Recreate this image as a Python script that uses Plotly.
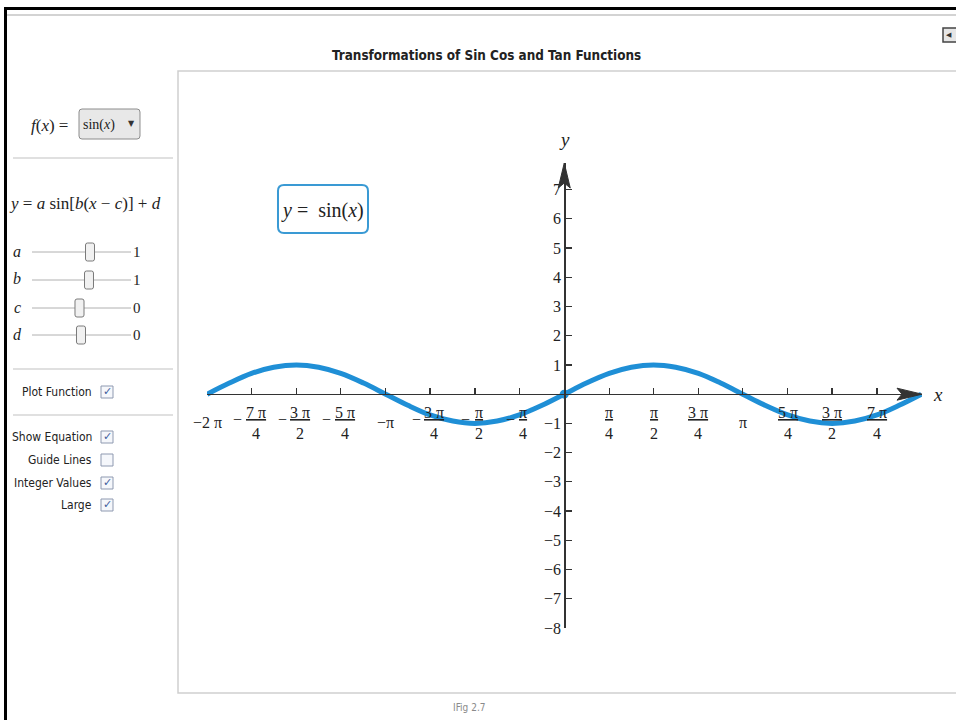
import plotly.graph_objects as go

W, H = 956, 720
FIG_H = 729  # the photographed viewport maps 729 page px onto 720 image px

# ---------------- data ----------------
curve_x = [-6.28, -5.89, -5.50, -5.11, -4.71, -4.32, -3.93, -3.53, -3.14,
           -2.75, -2.36, -1.96, -1.57, -1.18, -0.79, -0.39, 0.0,
           0.39, 0.79, 1.18, 1.57, 1.96, 2.36, 2.75, 3.14,
           3.53, 3.93, 4.32, 4.71, 5.11, 5.50, 5.89, 6.28]
curve_y = [0.0, 0.38, 0.71, 0.92, 1.0, 0.92, 0.71, 0.38, 0.0,
           -0.38, -0.71, -0.92, -1.0, -0.92, -0.71, -0.38, 0.0,
           0.38, 0.71, 0.92, 1.0, 0.92, 0.71, 0.38, 0.0,
           -0.38, -0.71, -0.92, -1.0, -0.92, -0.71, -0.38, 0.0]
origin_x = [0.0]
origin_y = [0.0]

x_tick_vals = [-6.28, -5.50, -4.71, -3.93, -3.14, -2.36, -1.57, -0.79,
               0.79, 1.57, 2.36, 3.14, 3.93, 4.71, 5.50]
x_tick_labels = ["−2 π", "−7 π/4", "−3 π/2", "−5 π/4", "−π", "−3 π/4", "−π/2", "−π/4",
                 "π/4", "π/2", "3 π/4", "π", "5 π/4", "3 π/2", "7 π/4"]
y_tick_vals = [-8, -7, -6, -5, -4, -3, -2, -1, 1, 2, 3, 4, 5, 6, 7]

x_range = [-6.2832, 6.292]
y_range = [-8.0, 7.91]

slider_names = ["a", "b", "c", "d"]
slider_values = ["1", "1", "0", "0"]
check_labels = ["Plot Function", "Show Equation", "Guide Lines", "Integer Values", "Large"]
check_states = [True, True, False, True, True]

title_text = "Transformations of Sin Cos and Tan Functions"
caption_text = "IFig 2.7"

# ---------------- layout geometry (pixels) ----------------
X0, X1 = 207, 922        # x-axis extent
Y_TOP, Y_BOT = 163, 628  # y-axis extent

SERIF = "Liberation Serif, Times New Roman, serif"
UI = "DejaVu Sans Condensed, Arial Narrow, sans-serif"
BLUE = "#1f8fd6"
AX = "#333333"


def px(x):
    return x / W


def py(y):
    return 1 - y / H


xdom = [px(X0), px(X1)]
ydom = [py(Y_BOT), py(Y_TOP)]
x_axis_pos = ydom[0] + (ydom[1] - ydom[0]) * (0 - y_range[0]) / (y_range[1] - y_range[0])
y_axis_pos = xdom[0] + (xdom[1] - xdom[0]) * (0 - x_range[0]) / (x_range[1] - x_range[0])

fig = go.Figure()
fig.add_trace(go.Scatter(x=curve_x, y=curve_y, mode="lines",
                         line=dict(color=BLUE, width=5, shape="spline"),
                         hoverinfo="skip", showlegend=False))
fig.add_trace(go.Scatter(x=origin_x, y=origin_y, mode="markers",
                         marker=dict(color=BLUE, size=9),
                         hoverinfo="skip", showlegend=False, cliponaxis=False))

shapes = []
ann = []


def line(x0, y0, x1, y1, color, width):
    shapes.append(dict(type="line", xref="paper", yref="paper",
                       x0=px(x0), y0=py(y0), x1=px(x1), y1=py(y1),
                       line=dict(color=color, width=width)))


def rect(x0, y0, x1, y1, color, width, fill="rgba(0,0,0,0)"):
    shapes.append(dict(type="rect", xref="paper", yref="paper",
                       x0=px(x0), y0=py(y0), x1=px(x1), y1=py(y1),
                       line=dict(color=color, width=width), fillcolor=fill))


def rrect(x0, y0, x1, y1, r, color, width, fill="rgba(0,0,0,0)"):
    def P(x, y):
        return f"{px(x):.5f},{py(y):.5f}"
    path = (f"M{P(x0 + r, y0)} L{P(x1 - r, y0)} Q{P(x1, y0)} {P(x1, y0 + r)} "
            f"L{P(x1, y1 - r)} Q{P(x1, y1)} {P(x1 - r, y1)} L{P(x0 + r, y1)} "
            f"Q{P(x0, y1)} {P(x0, y1 - r)} L{P(x0, y0 + r)} Q{P(x0, y0)} {P(x0 + r, y0)} Z")
    shapes.append(dict(type="path", xref="paper", yref="paper", path=path,
                       line=dict(color=color, width=width), fillcolor=fill))


def text(x, y, t, size, family=UI, color="#222", xanchor="center", yanchor="middle"):
    ann.append(dict(xref="paper", yref="paper", x=px(x), y=py(y), text=t,
                    showarrow=False, xanchor=xanchor, yanchor=yanchor,
                    font=dict(family=family, size=size, color=color)))


# window borders
line(4, 8.5, 956, 8.5, "black", 3)
line(5.5, 7, 5.5, 720, "black", 3)
line(7, 15, 956, 15, "#c4c4c4", 1.5)
# plot frame
rect(178, 71, 980, 693, "#cfcfcf", 1.5)
# top-right icon
rect(943, 28, 960, 42, "#444", 1.5, "#e6e6e6")
text(949, 35, "◀", 7, "DejaVu Sans", "#333")

# title & caption
text(486, 56, f"<b>{title_text}</b>", 13.4)
text(469, 707, caption_text, 10, color="#8a8a8a")

# ---------- left control panel ----------
text(49, 125, "<i>f</i>(<i>x</i>) =", 17, SERIF)
rrect(79, 109, 140, 139, 3, "#8c8c8c", 1, "#e8e8e8")
text(99, 125, "sin(<i>x</i>)", 14, SERIF)
text(131, 123, "▼", 8, "DejaVu Sans", "#333")
line(13, 158, 173, 158, "#d6d6d6", 1.5)

text(85, 203, "<i>y</i> = <i>a</i> sin[<i>b</i>(<i>x</i> − <i>c</i>)] + <i>d</i>", 17, SERIF)

slider_rows = [252, 280, 308, 335]
slider_thumbs = [90, 89, 79.5, 81]
for name, val, ry, tx in zip(slider_names, slider_values, slider_rows, slider_thumbs):
    text(17, ry - 1, f"<i>{name}</i>", 16, SERIF)
    line(32, ry, 131, ry, "#b0b0b0", 1)
    rrect(tx - 4.5, ry - 9, tx + 4.5, ry + 9, 2, "#7a7a7a", 1, "#f1f1f1")
    text(137, ry, val, 15, SERIF)

line(13, 369, 173, 369, "#d6d6d6", 1.5)
line(13, 415, 173, 415, "#d6d6d6", 1.5)

check_rows = [392, 437, 460, 483, 505]
for lab, st, ry in zip(check_labels, check_states, check_rows):
    text(94, ry, lab, 12, xanchor="right")
    rect(101, ry - 6, 113, ry + 6, "#8e99b0", 1, "#f5f7fb")
    if st:
        text(107, ry, "✓", 11, "DejaVu Sans", "#3f5f9f")

# ---------- plot decorations ----------
# equation box
rrect(278, 185, 368, 233, 6, "#3a9ad4", 2)
text(322, 210, "<i>y</i> =  sin(<i>x</i>)", 20, SERIF)

# x tick labels
LAB_Y = -0.97
MINUS_Y = -0.88
for v, lab in zip(x_tick_vals, x_tick_labels):
    neg = lab.startswith("−")
    body = lab[1:] if neg else lab
    if "/" in body:
        num, den = body.split("/")
        t = f"<u>{num}</u><br>{den}"
        shift = 4 if neg else 0
        ann.append(dict(xref="x", yref="y", x=v, y=LAB_Y, text=t, showarrow=False,
                        xshift=shift, xanchor="center", yanchor="middle",
                        font=dict(family=SERIF, size=16, color="#222")))
        if neg:
            ms = -14 if len(num) > 1 else -9
            ann.append(dict(xref="x", yref="y", x=v, y=MINUS_Y, text="−", showarrow=False,
                            xshift=ms, xanchor="center", yanchor="middle",
                            font=dict(family=SERIF, size=16, color="#222")))
    else:
        ann.append(dict(xref="x", yref="y", x=v, y=LAB_Y, text=lab, showarrow=False,
                        xanchor="center", yanchor="middle",
                        font=dict(family=SERIF, size=16, color="#222")))

# axis labels
ann.append(dict(xref="paper", yref="y", x=px(938), y=0, text="<i>x</i>", showarrow=False,
                xanchor="center", yanchor="middle",
                font=dict(family=SERIF, size=19, color="#222")))
ann.append(dict(xref="x", yref="paper", x=0, y=py(140), text="<i>y</i>", showarrow=False,
                xanchor="center", yanchor="middle",
                font=dict(family=SERIF, size=19, color="#222")))

# arrow heads (pixel-sized, anchored at axis ends)
shapes.append(dict(type="path", xref="x", yref="y", xsizemode="pixel", ysizemode="pixel",
                   xanchor=x_range[1], yanchor=0,
                   path="M0,0 L-25,6 L-20,0 L-25,-6 Z",
                   line=dict(color=AX, width=1), fillcolor=AX))
shapes.append(dict(type="path", xref="x", yref="y", xsizemode="pixel", ysizemode="pixel",
                   xanchor=0, yanchor=y_range[1],
                   path="M0,0 L-6,-25 L0,-20 L6,-25 Z",
                   line=dict(color=AX, width=1), fillcolor=AX))

fig.update_layout(
    width=W, height=FIG_H,
    margin=dict(l=0, r=0, t=0, b=0),
    paper_bgcolor="white", plot_bgcolor="white",
    shapes=shapes, annotations=ann, showlegend=False,
    xaxis=dict(domain=xdom, range=x_range, anchor="free", position=x_axis_pos,
               showline=True, linecolor=AX, linewidth=1.3,
               ticks="inside", ticklen=6, tickwidth=1.2, tickcolor=AX,
               tickvals=x_tick_vals, showticklabels=False,
               showgrid=False, zeroline=False, fixedrange=True),
    yaxis=dict(domain=ydom, range=y_range, anchor="free", position=y_axis_pos,
               showline=True, linecolor=AX, linewidth=1.3,
               ticks="inside", ticklen=6, tickwidth=1.2, tickcolor=AX,
               tickvals=y_tick_vals,
               tickfont=dict(family=SERIF, size=16, color="#222"),
               showgrid=False, zeroline=False, fixedrange=True),
)

fig.write_html("out.html", config={"staticPlot": True, "displayModeBar": False},
               post_script="document.body.style.margin='0px';")
